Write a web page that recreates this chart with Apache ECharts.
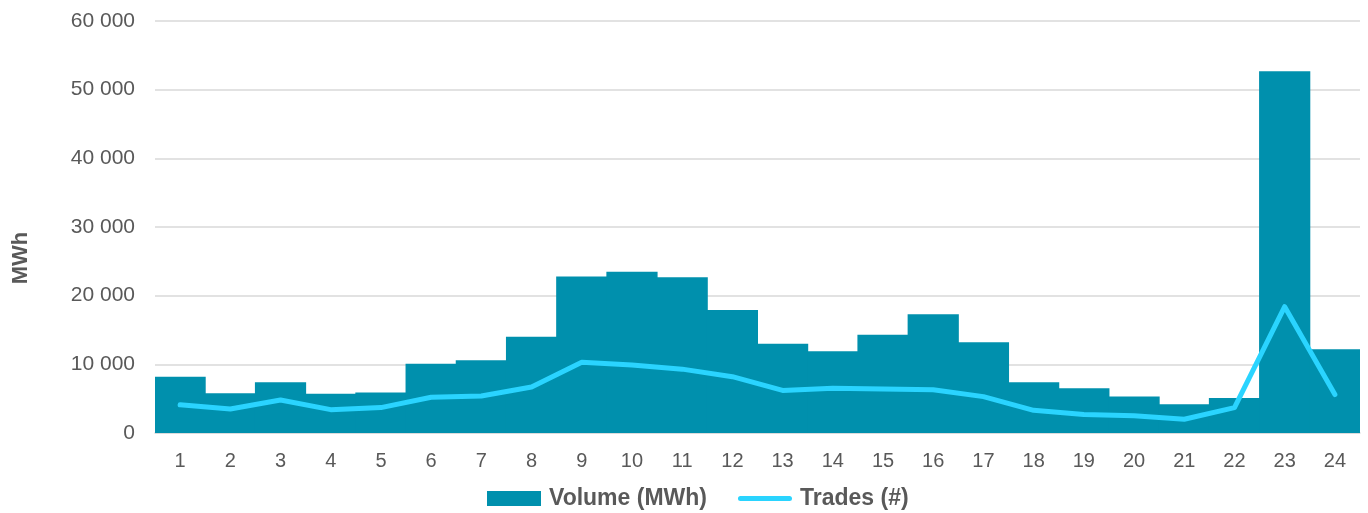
<!DOCTYPE html>
<html>
<head>
<meta charset="utf-8">
<title>Volume and trades per hour</title>
<script src="https://cdn.jsdelivr.net/npm/echarts@6/dist/echarts.min.js"></script>
<style>
    html, body { margin: 0; padding: 0; background: #fff; }
    #main { width: 1368px; height: 513px; }
</style>
</head>
<body>
<div id="main"></div>
<script>
// hours of the day
var hours = ['1','2','3','4','5','6','7','8','9','10','11','12','13','14','15','16','17','18','19','20','21','22','23','24'];
// volume (MWh)
var volume = [8200, 5800, 7400, 5700, 5900, 10100, 10600, 14000, 22800, 23500, 22700, 17900,
              13000, 11900, 14300, 17300, 13200, 7400, 6500, 5300, 4200, 5100, 52700, 12200];
// trades (#), drawn on the same scale as in the picture
var trades = [4100, 3500, 4800, 3400, 3700, 5200, 5400, 6700, 10300, 9900, 9300, 8200,
              6200, 6500, 6400, 6300, 5300, 3300, 2700, 2500, 2000, 3700, 18400, 5600];
var yTicks = [0, 10000, 20000, 30000, 40000, 50000, 60000];

var barColor = '#0090ad';
var lineColor = '#2ad4ff';

//千位空格
function fmt(v) {
    return String(v).replace(/\B(?=(\d{3})+(?!\d))/g, ' ');
}

var myChart = echarts.init(document.getElementById('main'));

var option = {
    animation: false,
    textStyle: { fontFamily: 'Liberation Sans, Arial, sans-serif' },
    grid: { left: 155, right: 8, top: 21, bottom: 80 },
    legend: {
        top: 482,
        left: 482,
        itemWidth: 54,
        itemHeight: 15,
        itemGap: 31,
        textStyle: { fontSize: 23, fontWeight: 'bold', color: '#595959', padding: [0, 0, 0, 3] },
        data: [
            { name: 'Volume (MWh)', icon: 'rect' },
            //细线图例，带圆头
            { name: 'Trades (#)', icon: 'path://M0,0 M54,15 M2.5,5 L51.5,5 A2.5,2.5 0 0 1 51.5,10 L2.5,10 A2.5,2.5 0 0 1 2.5,5 Z',
              itemStyle: { color: lineColor } }
        ]
    },
    xAxis: {
        type: 'category',
        data: hours,
        axisTick: { show: false },
        axisLine: { lineStyle: { color: '#d9d9d9', width: 1.5 } },
        axisLabel: { color: '#595959', fontSize: 20, margin: 18 }
    },
    yAxis: {
        type: 'value',
        min: yTicks[0],
        max: yTicks[yTicks.length - 1],
        interval: 10000,
        name: 'MWh',
        nameLocation: 'middle',
        nameGap: 123,
        nameTextStyle: { fontSize: 22, fontWeight: 'bold', color: '#595959', padding: [0, 62, 0, 0] },
        axisLine: { show: false },
        axisTick: { show: false },
        axisLabel: { color: '#595959', fontSize: 21, margin: 20, formatter: fmt },
        splitLine: { lineStyle: { color: '#d9d9d9', width: 1.5 } }
    },
    series: [
        {
            name: 'Volume (MWh)',
            type: 'bar',
            data: volume,
            barWidth: '102%',
            itemStyle: { color: barColor }
        },
        {
            name: 'Trades (#)',
            type: 'line',
            data: trades,
            symbol: 'none',
            lineStyle: { color: lineColor, width: 5, cap: 'round', join: 'round' },
            itemStyle: { color: lineColor }
        }
    ]
};

myChart.setOption(option);
</script>
</body>
</html>
